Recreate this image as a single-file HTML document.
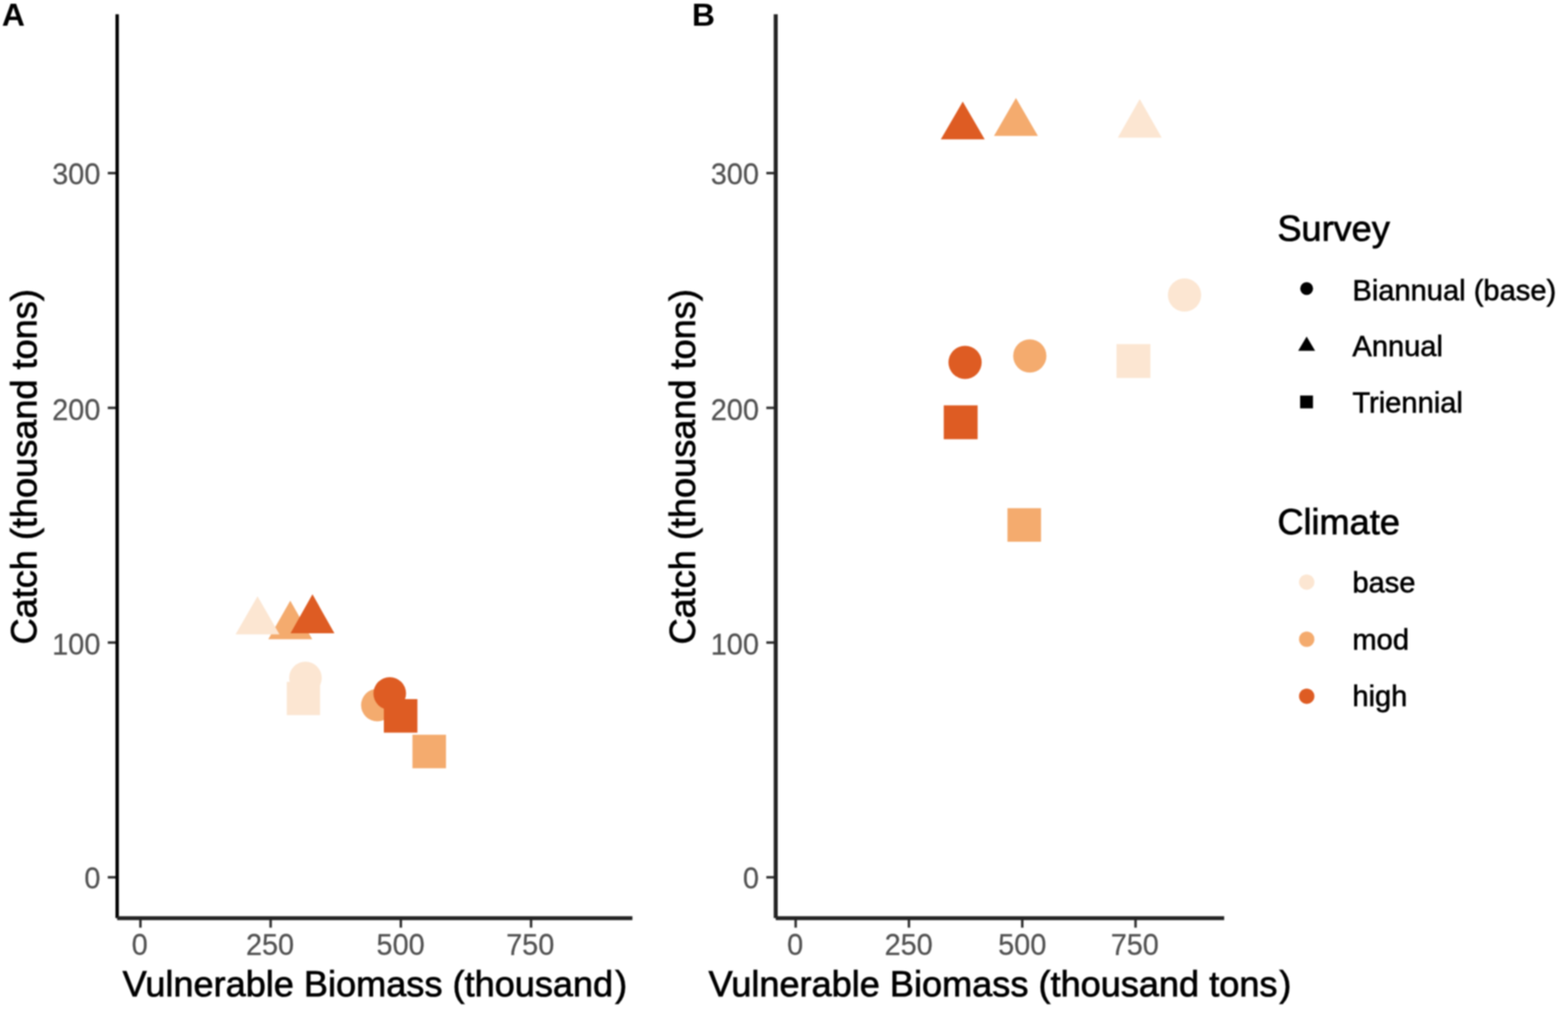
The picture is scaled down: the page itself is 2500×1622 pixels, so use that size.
<!DOCTYPE html>
<html lang="en">
<head>
<meta charset="utf-8">
<title>Catch vs Vulnerable Biomass</title>
<style>
html,body{margin:0;padding:0;background:#fff;}
body{width:2500px;height:1622px;overflow:hidden;}
svg{display:block;filter:blur(1px);}
text{font-family:"Liberation Sans", sans-serif;}
.tick{font-size:46px;fill:#525252;stroke:#525252;stroke-width:0.35px;}
.title{font-size:57.6px;fill:#000;stroke:#000;stroke-width:1.1px;}
.leg{font-size:46.4px;fill:#000;stroke:#000;stroke-width:0.9px;}
.tag{font-size:50.8px;font-weight:bold;fill:#000;}
</style>
</head>
<body>
<svg width="2500" height="1622" viewBox="0 0 2500 1622">
<rect x="0" y="0" width="2500" height="1622" fill="#ffffff"/>
<g id="fig">
<text x="2.9" y="40.7" class="tag">A</text>
<text x="1103.3" y="40.7" class="tag">B</text>
<g class="axes">
<line x1="171.8" y1="276.1" x2="186.8" y2="276.1" stroke="#333333" stroke-width="4.0"/>
<text transform="translate(160.0,293.5) scale(1,1.045)" text-anchor="end" class="tick">300</text>
<line x1="171.8" y1="650.5" x2="186.8" y2="650.5" stroke="#333333" stroke-width="4.0"/>
<text transform="translate(160.0,669.9) scale(1,1.045)" text-anchor="end" class="tick">200</text>
<line x1="171.8" y1="1024.8" x2="186.8" y2="1024.8" stroke="#333333" stroke-width="4.0"/>
<text transform="translate(160.0,1043.7) scale(1,1.045)" text-anchor="end" class="tick">100</text>
<line x1="171.8" y1="1399.2" x2="186.8" y2="1399.2" stroke="#333333" stroke-width="4.0"/>
<text transform="translate(160.0,1416.7) scale(1,1.045)" text-anchor="end" class="tick">0</text>
<line x1="223.9" y1="1464.3" x2="223.9" y2="1479.5" stroke="#333333" stroke-width="4.0"/>
<text transform="translate(222.9,1523.0) scale(1,1.045)" text-anchor="middle" class="tick">0</text>
<line x1="431.5" y1="1464.3" x2="431.5" y2="1479.5" stroke="#333333" stroke-width="4.0"/>
<text transform="translate(430.5,1523.0) scale(1,1.045)" text-anchor="middle" class="tick">250</text>
<line x1="639.1" y1="1464.3" x2="639.1" y2="1479.5" stroke="#333333" stroke-width="4.0"/>
<text transform="translate(638.7,1523.0) scale(1,1.045)" text-anchor="middle" class="tick">500</text>
<line x1="846.7" y1="1464.3" x2="846.7" y2="1479.5" stroke="#333333" stroke-width="4.0"/>
<text transform="translate(845.4,1523.0) scale(1,1.045)" text-anchor="middle" class="tick">750</text>
<line x1="186.8" y1="22.7" x2="186.8" y2="1464.3" stroke="#000000" stroke-width="5.4"/>
<line x1="186.8" y1="1464.3" x2="1008.3" y2="1464.3" stroke="#242424" stroke-width="6.2"/>
<text x="597.6" y="1589.3" text-anchor="middle" class="title">Vulnerable Biomass (thousand<tspan dx="3">)</tspan></text>
<text transform="translate(58.0,744.5) rotate(-90)" text-anchor="middle" class="title">Catch (thousand tons)</text>
</g>
<g class="ptsA">
<polygon points="462.8,957.9 497.8,1019.4 427.8,1019.4" fill="#F4AB6E"/>
<polygon points="410.6,951.0 445.6,1011.8 375.6,1011.8" fill="#FCE6D2"/>
<polygon points="498.2,947.8 533.2,1010.0 463.2,1010.0" fill="#DE5C23"/>
<circle cx="487.0" cy="1081.3" r="26.00" fill="#FCE6D2"/>
<rect x="457.3" y="1087.5" width="53.0" height="53.0" fill="#FCE6D2"/>
<circle cx="601.7" cy="1124.6" r="26.00" fill="#F4AB6E"/>
<circle cx="621.4" cy="1106.0" r="26.00" fill="#DE5C23"/>
<rect x="612.0" y="1115.0" width="53.5" height="53.5" fill="#DE5C23"/>
<rect x="657.6" y="1171.8" width="53.5" height="53.5" fill="#F4AB6E"/>
</g>
<g class="axes">
<line x1="1221.8" y1="276.1" x2="1236.8" y2="276.1" stroke="#333333" stroke-width="4.0"/>
<text transform="translate(1210.0,293.5) scale(1,1.045)" text-anchor="end" class="tick">300</text>
<line x1="1221.8" y1="650.5" x2="1236.8" y2="650.5" stroke="#333333" stroke-width="4.0"/>
<text transform="translate(1210.0,669.9) scale(1,1.045)" text-anchor="end" class="tick">200</text>
<line x1="1221.8" y1="1024.8" x2="1236.8" y2="1024.8" stroke="#333333" stroke-width="4.0"/>
<text transform="translate(1210.0,1043.7) scale(1,1.045)" text-anchor="end" class="tick">100</text>
<line x1="1221.8" y1="1399.2" x2="1236.8" y2="1399.2" stroke="#333333" stroke-width="4.0"/>
<text transform="translate(1210.0,1416.7) scale(1,1.045)" text-anchor="end" class="tick">0</text>
<line x1="1268.6" y1="1464.3" x2="1268.6" y2="1479.5" stroke="#333333" stroke-width="4.0"/>
<text transform="translate(1267.7,1523.0) scale(1,1.045)" text-anchor="middle" class="tick">0</text>
<line x1="1449.2" y1="1464.3" x2="1449.2" y2="1479.5" stroke="#333333" stroke-width="4.0"/>
<text transform="translate(1448.8,1523.0) scale(1,1.045)" text-anchor="middle" class="tick">250</text>
<line x1="1629.9" y1="1464.3" x2="1629.9" y2="1479.5" stroke="#333333" stroke-width="4.0"/>
<text transform="translate(1629.9,1523.0) scale(1,1.045)" text-anchor="middle" class="tick">500</text>
<line x1="1810.5" y1="1464.3" x2="1810.5" y2="1479.5" stroke="#333333" stroke-width="4.0"/>
<text transform="translate(1809.3,1523.0) scale(1,1.045)" text-anchor="middle" class="tick">750</text>
<line x1="1236.8" y1="22.7" x2="1236.8" y2="1464.3" stroke="#242424" stroke-width="6.4"/>
<line x1="1236.8" y1="1464.3" x2="1951.8" y2="1464.3" stroke="#242424" stroke-width="6.2"/>
<text x="1594.3" y="1589.3" text-anchor="middle" class="title">Vulnerable Biomass (thousand tons<tspan dx="3">)</tspan></text>
<text transform="translate(1108.0,744.5) rotate(-90)" text-anchor="middle" class="title">Catch (thousand tons)</text>
</g>
<g class="ptsB">
<polygon points="1535.0,162.1 1570.0,222.2 1500.0,222.2" fill="#DE5C23"/>
<polygon points="1619.8,156.2 1654.8,216.8 1584.8,216.8" fill="#F4AB6E"/>
<polygon points="1817.2,157.9 1852.2,219.4 1782.2,219.4" fill="#FCE6D2"/>
<circle cx="1888.6" cy="470.5" r="26.50" fill="#FCE6D2"/>
<circle cx="1538.7" cy="577.9" r="26.50" fill="#DE5C23"/>
<circle cx="1641.9" cy="567.7" r="26.50" fill="#F4AB6E"/>
<rect x="1780.2" y="548.8" width="54.0" height="54.0" fill="#FCE6D2"/>
<rect x="1504.7" y="646.5" width="54.0" height="54.0" fill="#DE5C23"/>
<rect x="1606.3" y="810.5" width="53.5" height="53.5" fill="#F4AB6E"/>
</g>
<g class="legend">
<text x="2036.7" y="384.2" class="title">Survey</text>
<circle cx="2083.3" cy="460.2" r="10.25" fill="#000"/>
<text x="2156.2" y="478.5" class="leg">Biannual (base)</text>
<polygon points="2083.3,536.8 2096.8,559.4 2069.8,559.4" fill="#000"/>
<text x="2156.2" y="568.4" class="leg">Annual</text>
<rect x="2072.9" y="630.8" width="20.5" height="20.5" fill="#000"/>
<text x="2156.2" y="658.3" class="leg">Triennial</text>
<text x="2036.7" y="851.6" class="title">Climate</text>
<circle cx="2083.4" cy="928.4" r="12.25" fill="#FCE6D2"/>
<text x="2156.2" y="945.3" class="leg">base</text>
<circle cx="2083.4" cy="1019.5" r="12.25" fill="#F4AB6E"/>
<text x="2156.2" y="1035.8" class="leg">mod</text>
<circle cx="2083.4" cy="1110.4" r="12.25" fill="#DE5C23"/>
<text x="2156.2" y="1126.0" class="leg">high</text>
</g>
</g>
</svg>
</body>
</html>
